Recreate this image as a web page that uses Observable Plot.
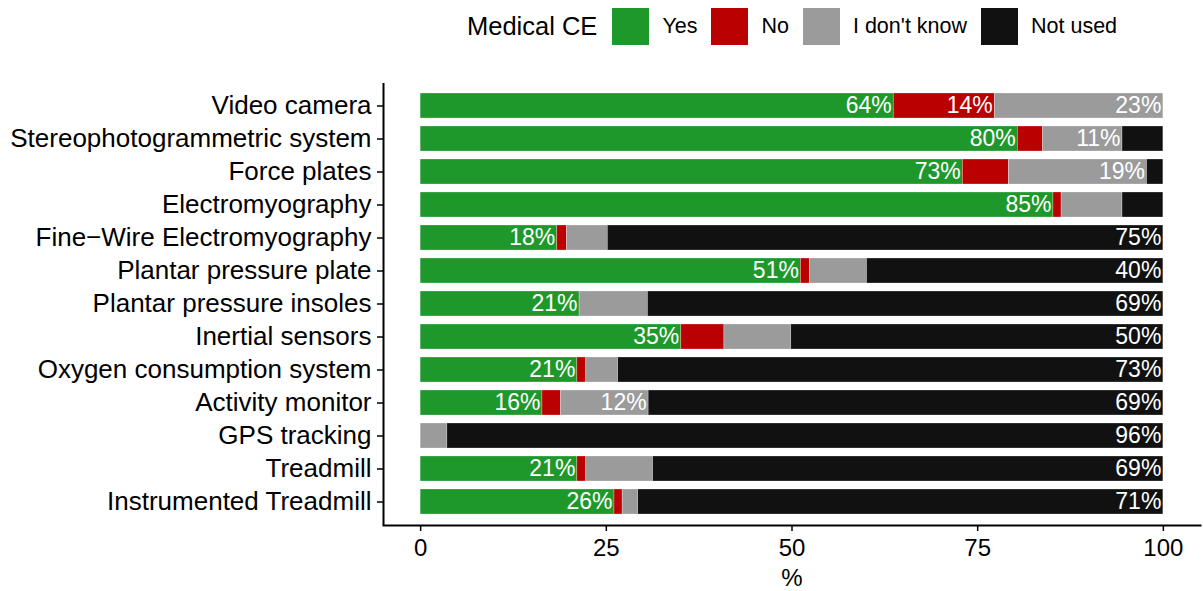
<!DOCTYPE html>
<html><head><meta charset="utf-8">
<script src="https://cdn.jsdelivr.net/npm/d3@7"></script>
<script src="https://cdn.jsdelivr.net/npm/@observablehq/plot@0.6"></script>
<style>
html,body{margin:0;padding:0;background:#fff;}
body{font-family:"Liberation Sans",Arial,sans-serif;color:#000;width:1203px;}
#legend{position:relative;height:52px;}
#legend .row{position:absolute;left:467px;top:8px;height:37px;display:flex;align-items:center;}
#legend .title{font-size:25.5px;margin-right:15px;}
#legend .sw{width:37px;height:37px;margin-right:13px;}
#legend .lab{font-size:21.5px;margin-right:14px;}
#chart svg{display:block;}
</style></head><body>
<div id="legend"></div>
<div id="chart"></div>
<script>
const items = ["Video camera","Stereophotogrammetric system","Force plates","Electromyography","Fine\u2212Wire Electromyography","Plantar pressure plate","Plantar pressure insoles","Inertial sensors","Oxygen consumption system","Activity monitor","GPS tracking","Treadmill","Instrumented Treadmill"];
const responses = ["Yes","No","I don't know","Not used"];
const colors = ["#1f982b","#bb0000","#9b9b9b","#111111"];
const yesVals     = [63.7, 80.4, 73.0, 85.2, 18.4, 51.2, 21.4, 35.1, 21.1, 16.4, 0.0, 21.1, 26.1];
const noVals      = [13.6,  3.4,  6.2,  1.1,  1.3,  1.2,  0.0,  5.8,  1.2,  2.5, 0.0,  1.2,  1.1];
const idkVals     = [22.7, 10.7, 18.6,  8.2,  5.5,  7.7,  9.2,  9.0,  4.3, 11.8, 3.6,  9.0,  2.1];
const notUsedVals = [ 0.0,  5.5,  2.2,  5.5, 74.8, 39.9, 69.4, 50.1, 73.4, 69.3, 96.4, 68.7, 70.7];
const xTicks = [0,25,50,75,100];
const legendTitle = "Medical CE";
const xLabel = "%";

const series = [yesVals, noVals, idkVals, notUsedVals];
const rows = [];
items.forEach((item, i) => {
  let acc = 0;
  responses.forEach((resp, j) => {
    const v = series[j][i];
    rows.push({item, resp, value: v, x1: acc, x2: acc + v});
    acc += v;
  });
});

// legend
const lg = document.createElement("div");
lg.className = "row";
const t = document.createElement("span"); t.className = "title"; t.textContent = legendTitle; lg.appendChild(t);
responses.forEach((r, j) => {
  const s = document.createElement("span"); s.className = "sw"; s.style.background = colors[j]; lg.appendChild(s);
  const l = document.createElement("span"); l.className = "lab"; l.textContent = r; lg.appendChild(l);
});
document.getElementById("legend").appendChild(lg);

const plot = Plot.plot({
  width: 1203, height: 539,
  marginLeft: 383, marginRight: 3, marginTop: 31, marginBottom: 66,
  style: {fontFamily: "Liberation Sans, Arial, sans-serif", fontSize: "24px", color: "#000", background: "#fff", overflow: "visible"},
  x: {domain: [-5, 105], axis: null},
  y: {domain: items, paddingInner: 0.23, paddingOuter: 0.215, axis: null},
  color: {domain: responses, range: colors},
  marks: [
    Plot.barX(rows.filter(d => d.value > 0), {x1: "x1", x2: "x2", y: "item", fill: "resp", stroke: "#ffffff", strokeOpacity: 0.45, strokeWidth: 0.6}),
    Plot.text(rows.filter(d => d.value >= 10), {x: "x2", y: "item", text: d => Math.round(d.value) + "%", textAnchor: "end", dx: -2, fill: "white", fontSize: 23}),
    Plot.axisY({tickSize: 6, tickPadding: 6, fontSize: 26, strokeWidth: 1.5, label: null}),
    Plot.axisX({ticks: xTicks, tickSize: 6, tickPadding: 7, fontSize: 24, strokeWidth: 1.5, label: null}),
    Plot.ruleX([-5], {strokeWidth: 2}),
    Plot.frame({anchor: "bottom", strokeWidth: 2}),
    Plot.text([xLabel], {text: d => d, frameAnchor: "bottom", lineAnchor: "middle", dy: 53, fontSize: 24})
  ]
});
document.getElementById("chart").appendChild(plot);
</script>
</body></html>
